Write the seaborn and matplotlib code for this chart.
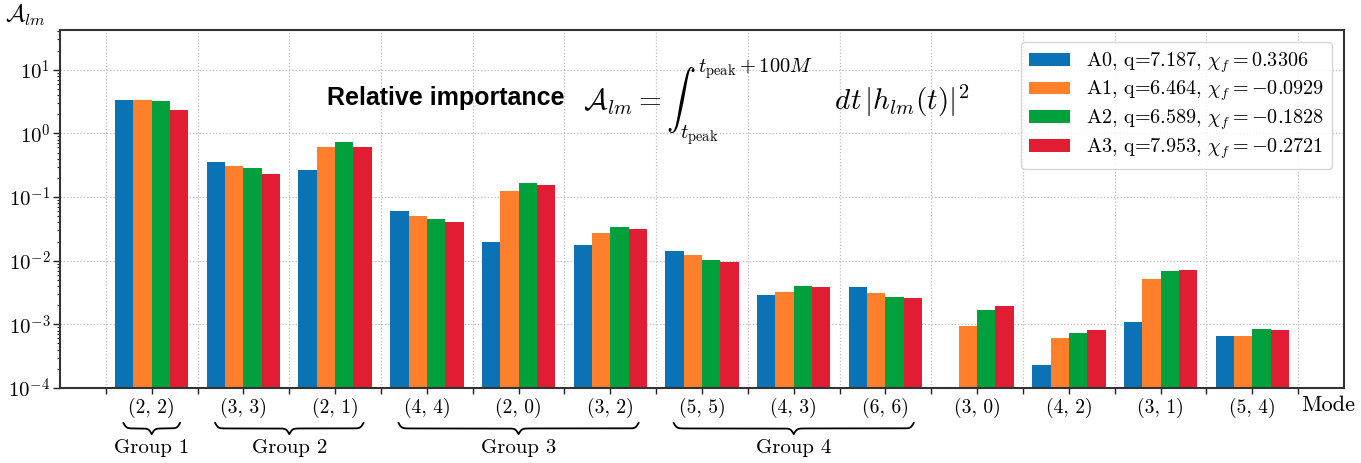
import numpy as np
import pandas as pd
import matplotlib
matplotlib.use("Agg")
import matplotlib.pyplot as plt
import matplotlib.transforms as mtransforms
from matplotlib.ticker import FixedLocator, FuncFormatter, NullFormatter, LogLocator
import seaborn as sns

# ---------------- data ----------------
modes = [(2, 2), (3, 3), (2, 1), (4, 4), (2, 0), (3, 2), (5, 5), (4, 3), (6, 6),
         (3, 0), (4, 2), (3, 1), (5, 4)]
run_names = ["A0", "A1", "A2", "A3"]
run_q = ["7.187", "6.464", "6.589", "7.953"]
run_chi = ["0.3306", "-0.0929", "-0.1828", "-0.2721"]

A0 = [3.34, 0.357, 0.263, 0.0605, 0.0198, 0.0176, 0.0144, 0.00291, 0.0039,
      np.nan, 0.000227, 0.00108, 0.000645]
A1 = [3.34, 0.31, 0.614, 0.0507, 0.124, 0.0275, 0.0121, 0.00323, 0.00316,
      0.00094, 0.000601, 0.00512, 0.00066]
A2 = [3.18, 0.282, 0.741, 0.0456, 0.164, 0.034, 0.0102, 0.00404, 0.00268,
      0.00167, 0.000743, 0.00695, 0.000855]
A3 = [2.29, 0.229, 0.60, 0.040, 0.153, 0.0316, 0.0095, 0.0039, 0.00259,
      0.00195, 0.000817, 0.0072, 0.000807]

group_names = ["Group 1", "Group 2", "Group 3", "Group 4"]
group_first = [0, 1, 3, 6]
group_last = [0, 2, 5, 8]

colors = ["#0a72b5", "#ff7f2a", "#00a03c", "#e11d34"]

# ---------------- style ----------------
sns.set_style("ticks")
plt.rcParams["font.family"] = ["cmr10", "DejaVu Sans"]
plt.rcParams["mathtext.fontset"] = "cm"
plt.rcParams["axes.formatter.use_mathtext"] = True
plt.rcParams["axes.unicode_minus"] = True
plt.rcParams["text.color"] = "black"
plt.rcParams["axes.labelcolor"] = "black"
plt.rcParams["xtick.color"] = "black"
plt.rcParams["ytick.color"] = "black"

mode_labels = [f"({l}, {m})" for l, m in modes]
series_labels = []
for n, q, c in zip(run_names, run_q, run_chi):
    series_labels.append(f"{n}, q={q}, " + r"$\chi_f = " + c + "$")

rows = []
for lab, vals in zip(series_labels, [A0, A1, A2, A3]):
    for ml, v in zip(mode_labels, vals):
        rows.append({"mode": ml, "A": v, "run": lab})
df = pd.DataFrame(rows)

fig = plt.figure(figsize=(13.61, 4.63), dpi=100)
ax = fig.add_axes([0.0441, 0.162, 0.9875 - 0.0441, 0.9352 - 0.162])

sns.barplot(data=df, x="mode", y="A", hue="run", order=mode_labels,
            hue_order=series_labels, palette=colors, errorbar=None,
            width=0.8, saturation=1, linewidth=0, edgecolor="none", ax=ax)
ax.set_yscale("log")
ax.set_ylim(1e-4, 42)
ax.set_xlim(-1, 13)

# ticks
ax.set_xticks(range(len(modes)))
ax.set_xticklabels(mode_labels, fontsize=14)
ax.xaxis.set_minor_locator(FixedLocator(np.arange(-0.5, len(modes), 1.0)))
ax.yaxis.set_major_locator(LogLocator(base=10, numticks=20))
ax.yaxis.set_major_formatter(FuncFormatter(lambda v, p: r"$10^{%d}$" % int(round(np.log10(v)))))
ax.yaxis.set_minor_locator(LogLocator(base=10, subs=np.arange(2, 10), numticks=20))
ax.yaxis.set_minor_formatter(NullFormatter())
ax.tick_params(axis="y", which="major", labelsize=15, length=5, width=1, direction="out", pad=2,
               color="#222222", labelcolor="black")
ax.tick_params(axis="y", which="minor", length=2.5, width=0.8, direction="out", color="#222222")
ax.tick_params(axis="x", which="both", length=4, width=1, direction="out", pad=3,
               color="#222222", labelcolor="black")
ax.set_xlabel("")
ax.set_ylabel("")

# grid
ax.grid(False)
ax.xaxis.grid(True, which="minor", linestyle=":", color="#bbbbbb", linewidth=0.9)
ax.yaxis.grid(True, which="major", linestyle=":", color="#bbbbbb", linewidth=0.9)
ax.set_axisbelow(True)

for sp in ax.spines.values():
    sp.set_visible(True)
    sp.set_color("#333333")
    sp.set_linewidth(1.5)

# legend
handles, labels = ax.get_legend_handles_labels()
leg = ax.legend(handles, labels, loc="upper right", fontsize=14.5, frameon=True,
                edgecolor="0.8", fancybox=True, borderaxespad=0.6, labelspacing=0.2,
                handlelength=2.0, handleheight=0.6, borderpad=0.4)
for t in leg.get_texts():
    t.set_color("black")

# annotation text
ax.text(0.208, 0.81, "Relative importance", transform=ax.transAxes, color="black",
        fontsize=18, fontweight="bold", family=["Liberation Sans", "DejaVu Sans"],
        ha="left", va="center")
ax.text(0.407, 0.80,
        r"$\mathcal{A}_{lm} = \int_{t_{\rm peak}}^{t_{\rm peak}+100M} \quad dt\,|h_{lm}(t)|^2$",
        transform=ax.transAxes, fontsize=21, ha="left", va="center", color="black")

# y label
fig.text(5 / 1361, 1 - 3 / 463, r"$\mathcal{A}_{lm}$", fontsize=17, ha="left", va="top", color="black")

# Mode label
ax.text(0.9875, -0.022, "Mode", transform=ax.transAxes, fontsize=16, ha="center", va="top", color="black")

# braces + group labels
trans = mtransforms.blended_transform_factory(ax.transData, ax.transAxes)
def draw_brace(x0, x1, y_top, h, beta=60.0):
    n = 401
    x = np.linspace(x0, x1, n)
    xh = x[: n // 2 + 1]
    yh = 1 / (1 + np.exp(-beta * (xh - xh[0]))) + 1 / (1 + np.exp(-beta * (xh - xh[-1])))
    y = np.concatenate((yh, yh[-2::-1]))
    yy = y_top - (y - 0.5) * h
    ax.plot(x, yy, transform=trans, clip_on=False, color="black", lw=1.3)

for name, f, l in zip(group_names, group_first, group_last):
    x0, x1 = f - 0.31, l + 0.31
    draw_brace(x0, x1, -0.097, 0.032)
    ax.text((x0 + x1) / 2, -0.182, name, transform=trans, fontsize=15,
            ha="center", va="baseline", color="black")

fig.savefig("out.png", dpi=100)
